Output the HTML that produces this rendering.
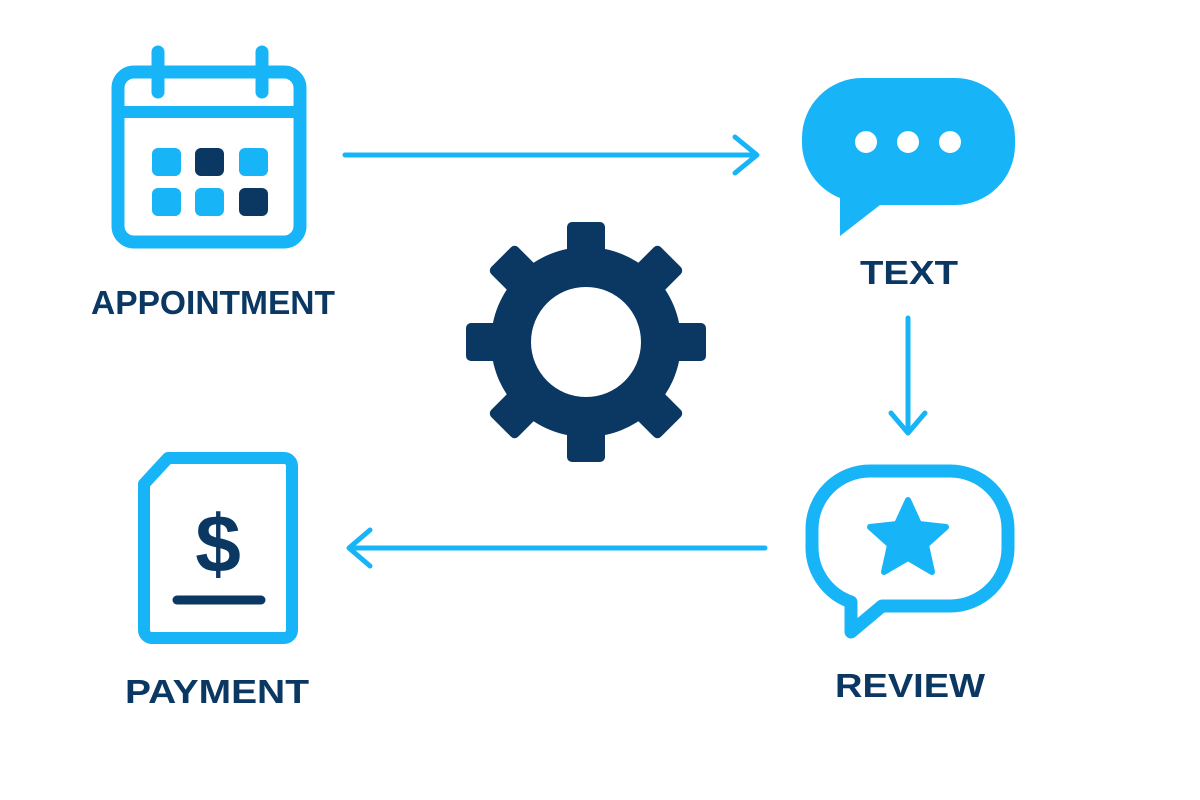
<!DOCTYPE html>
<html><head><meta charset="utf-8"><style>html,body{margin:0;padding:0;background:#fff}svg{display:block}</style></head>
<body>
<svg width="1200" height="800" viewBox="0 0 1200 800" xmlns="http://www.w3.org/2000/svg">
<g fill="none" stroke="#18b4f8" stroke-linecap="round" stroke-linejoin="round">
  <!-- calendar -->
  <rect x="118" y="72" width="182" height="170" rx="16" stroke-width="13"/>
  <line x1="118" y1="112" x2="300" y2="112" stroke-width="12"/>
  <line x1="158" y1="52" x2="158" y2="92" stroke-width="13"/>
  <line x1="262" y1="52" x2="262" y2="92" stroke-width="13"/>
  <!-- arrows -->
  <line x1="345" y1="155" x2="755" y2="155" stroke-width="5"/>
  <polyline points="735,137 757,155 735,173" stroke-width="5"/>
  <line x1="908" y1="318" x2="908" y2="432" stroke-width="5"/>
  <polyline points="891,413 908,433 925,413" stroke-width="5"/>
  <line x1="765" y1="548" x2="350" y2="548" stroke-width="5"/>
  <polyline points="370,530 349,548 370,566" stroke-width="5"/>
  <!-- review bubble -->
  <path d="M870,471 H950 A58,58 0 0 1 1008,529 V548 A58,58 0 0 1 950,606 H882 L851,632 V602 A58,58 0 0 1 812,548 V529 A58,58 0 0 1 870,471 Z" stroke-width="13"/>
  <!-- payment doc -->
  <path d="M168,458 H284 A8,8 0 0 1 292,466 V630 A8,8 0 0 1 284,638 H152 A8,8 0 0 1 144,630 V484 Z" stroke-width="12"/>
</g>
<!-- calendar squares -->
<g>
  <rect x="152" y="148" width="29" height="28" rx="6" fill="#18b4f8"/>
  <rect x="195" y="148" width="29" height="28" rx="6" fill="#0b3763"/>
  <rect x="239" y="148" width="29" height="28" rx="6" fill="#18b4f8"/>
  <rect x="152" y="188" width="29" height="28" rx="6" fill="#18b4f8"/>
  <rect x="195" y="188" width="29" height="28" rx="6" fill="#18b4f8"/>
  <rect x="239" y="188" width="29" height="28" rx="6" fill="#0b3763"/>
</g>
<!-- text bubble -->
<path d="M862,78 H955 A60,60 0 0 1 1015,138 V145 A60,60 0 0 1 955,205 H880 L840,236 V198 A60,60 0 0 1 802,145 V138 A60,60 0 0 1 862,78 Z" fill="#18b4f8"/>
<circle cx="866" cy="142" r="11" fill="#fff"/>
<circle cx="908" cy="142" r="11" fill="#fff"/>
<circle cx="950" cy="142" r="11" fill="#fff"/>
<!-- star -->
<polygon points="908,500 919,524 946,527 926,545 932,572 908,558 884,572 890,545 870,527 897,524" fill="#18b4f8" stroke="#18b4f8" stroke-width="6" stroke-linejoin="round"/>
<!-- gear -->
<g transform="translate(586,342)" fill="#0b3763">
  <circle r="95"/>
  <g id="t"><rect x="-19" y="-120" width="38" height="40" rx="5"/></g>
  <use href="#t" transform="rotate(45)"/><use href="#t" transform="rotate(90)"/><use href="#t" transform="rotate(135)"/>
  <use href="#t" transform="rotate(180)"/><use href="#t" transform="rotate(225)"/><use href="#t" transform="rotate(270)"/><use href="#t" transform="rotate(315)"/>
  <circle r="55" fill="#fff"/>
</g>
<!-- payment $ -->
<text x="218" y="572" text-anchor="middle" font-family="Liberation Sans, sans-serif" font-weight="bold" font-size="82" fill="#0b3763">$</text>
<line x1="177" y1="600" x2="261" y2="600" stroke="#0b3763" stroke-width="9" stroke-linecap="round"/>
<!-- labels -->
<g font-family="Liberation Sans, sans-serif" font-weight="bold" fill="#0b3763" text-anchor="middle" font-size="33">
  <text x="213" y="314" textLength="244" lengthAdjust="spacingAndGlyphs">APPOINTMENT</text>
  <text x="909" y="284" textLength="98" lengthAdjust="spacingAndGlyphs">TEXT</text>
  <text x="217" y="703" textLength="184" lengthAdjust="spacingAndGlyphs">PAYMENT</text>
  <text x="910" y="697" textLength="150" lengthAdjust="spacingAndGlyphs">REVIEW</text>
</g>
</svg>
</body></html>
